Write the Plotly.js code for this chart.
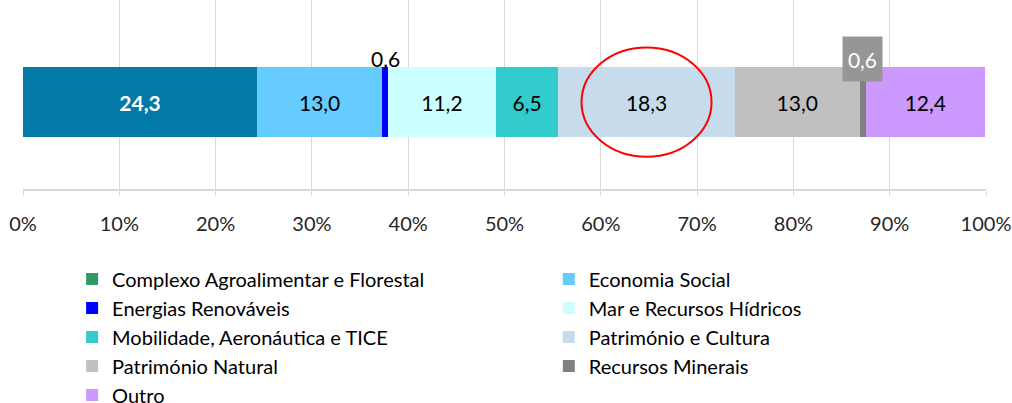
<!DOCTYPE html>
<html>
<head>
<meta charset="utf-8">
<script src="https://cdn.plot.ly/plotly-3.0.1.min.js"></script>
<style>html,body{margin:0;padding:0;background:#fff;}#chart{width:1012px;height:403px;}</style>
</head>
<body>
<div id="chart"></div>
<script>
const categories = ['Complexo Agroalimentar e Florestal','Economia Social','Energias Renováveis','Mar e Recursos Hídricos','Mobilidade, Aeronáutica e TICE','Património e Cultura','Património Natural','Recursos Minerais','Outro'];
const values = [24.3, 13.0, 0.6, 11.2, 6.5, 18.3, 13.0, 0.6, 12.4];
const barColors = ['#0279A6','#66CCFF','#0000FF','#CCFFFF','#33CCCC','#C6DCEC','#C0C0C0','#808080','#CC99FF'];
const legendColors = ['#339966','#66CCFF','#0000FF','#CCFFFF','#33CCCC','#C6DCEC','#C0C0C0','#808080','#CC99FF'];
const textColors = ['#FFFFFF','#000','#000','#000','#000','#000','#000','#000','#000'];
const tickVals = [0,10,20,30,40,50,60,70,80,90,100];
const highlighted = 'Património e Cultura';

const FONT = 'Lato, "Open Sans", sans-serif';
const data = [];
// legend swatch for the first category (its legend colour differs from the bar colour)
data.push({type:'bar', orientation:'h', name:categories[0], x:[0], y:[0], width:1,
  marker:{color:legendColors[0], line:{width:0}}, legend:'legend', legendrank:1, hoverinfo:'skip'});
const cum = [];
let acc = 0;
categories.forEach((c,i)=>{
  cum.push(acc + values[i]/2);
  acc += values[i];
  const small = values[i] < 2;
  data.push({
    type:'bar', orientation:'h', name:c, x:[values[i]], y:[0], width:1,
    marker:{color:barColors[i], line:{width:0}},
    showlegend: i !== 0,
    legend: (i % 2 === 0) ? 'legend' : 'legend2',
    legendrank: i+1,
    text: small ? [''] : [values[i].toFixed(1).replace('.',',')],
    textposition:'inside', insidetextanchor:'middle',
    textfont:{family:FONT, size:21, color:textColors[i], weight: i===0 ? 'bold':'normal'},
    constraintext:'none'
  });
});

const annotations = [];
categories.forEach((c,i)=>{
  if (values[i] < 2) {
    const boxed = c === 'Recursos Minerais';
    annotations.push({
      x: cum[i], y: 0.5, xref:'x', yref:'y', showarrow:false,
      text: values[i].toFixed(1).replace('.',','),
      yanchor:'middle', yshift: boxed ? 8 : 9,
      font:{family:FONT, size:21, color: boxed ? '#FFFFFF' : '#000'},
      bgcolor: boxed ? '#969696' : 'rgba(0,0,0,0)',
      width: boxed ? 37 : undefined, height: boxed ? 42 : undefined,
      borderpad: boxed ? 1 : 0
    });
  }
});

const hi = categories.indexOf(highlighted);
const shapes = [{
  type:'circle', xref:'x', yref:'y',
  x0: cum[hi]-6.75, x1: cum[hi]+6.75, y0:-0.78, y1:0.78,
  line:{color:'#FF0000', width:2}, fillcolor:'rgba(0,0,0,0)'
}];

const legendBase = {orientation:'v', xanchor:'left', yref:'container', y:0.356, yanchor:'top',
  traceorder:'normal', font:{family:FONT, size:20, color:'#000'}, bgcolor:'rgba(0,0,0,0)',
  itemclick:false, tracegroupgap:0};

const layout = {
  width:1012, height:403,
  margin:{l:23, r:26, t:0, b:214, pad:0, autoexpand:false},
  paper_bgcolor:'#fff', plot_bgcolor:'#fff',
  barmode:'stack', bargap:0,
  separators:',.',
  font:{family:FONT, color:'#000'},
  xaxis:{range:[0,100], tickvals:tickVals, ticktext:tickVals.map(v=>v+'%'),
    showgrid:true, gridcolor:'#D9D9D9', gridwidth:1, zeroline:false,
    showline:true, linecolor:'#D9D9D9', linewidth:2,
    ticks:'outside', ticklen:5, tickcolor:'#D9D9D9', tickwidth:1,
    ticklabelstandoff:11,
    tickfont:{family:FONT, size:20, color:'#262626'}, fixedrange:true},
  yaxis:{range:[-1.242,1.458], showticklabels:false, showgrid:false, zeroline:false, showline:false, fixedrange:true},
  showlegend:true,
  legend: Object.assign({}, legendBase, {x:0.051}),
  legend2: Object.assign({}, legendBase, {x:0.546}),
  annotations: annotations,
  shapes: shapes
};
Plotly.newPlot('chart', data, layout, {displayModeBar:false, staticPlot:true});
</script>
</body>
</html>
